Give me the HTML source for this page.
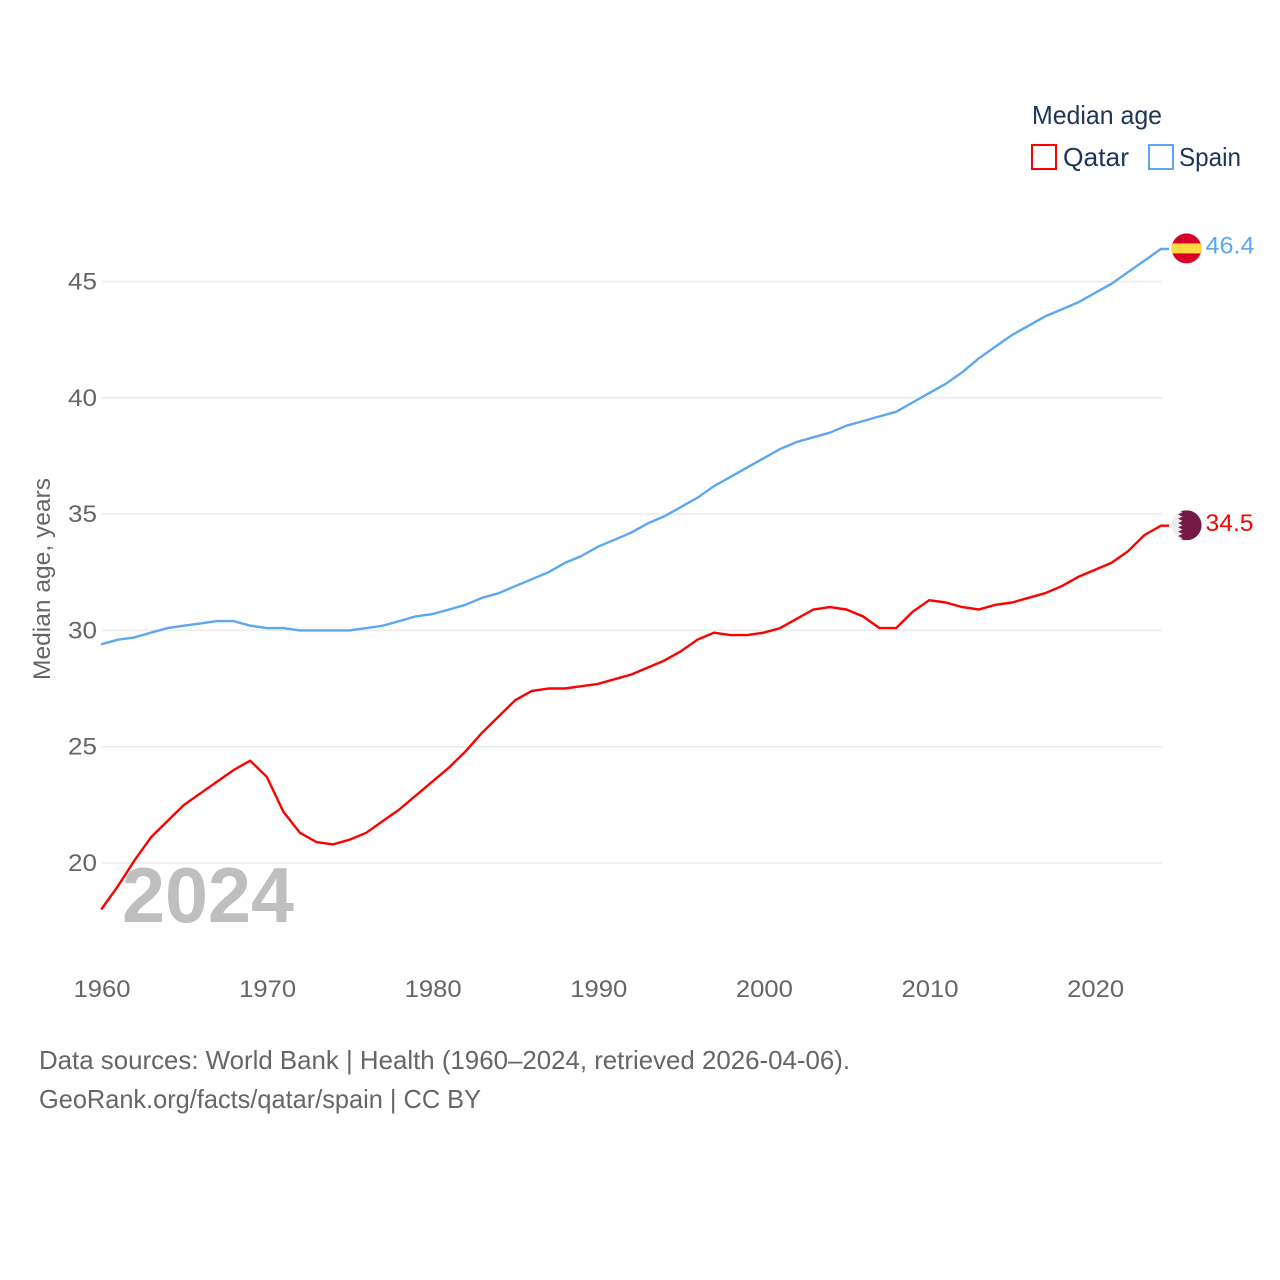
<!DOCTYPE html>
<html lang="en">
<head>
<meta charset="utf-8">
<title>Median age: Qatar and Spain</title>
<style>
html,body{margin:0;padding:0;background:#fff;width:1280px;height:1280px;overflow:hidden}
svg{display:block}
text{font-family:"Liberation Sans",sans-serif}
</style>
</head>
<body>
<svg id="chart" xmlns="http://www.w3.org/2000/svg" width="1280" height="1280" viewBox="0 0 1280 1280">
  <defs>
    <clipPath id="flag-clip-spain"><circle cx="0" cy="0" r="15"/></clipPath>
    <clipPath id="flag-clip-qatar"><circle cx="0" cy="0" r="15"/></clipPath>
  </defs>
  <g id="grid"></g>
  <g id="yticks"></g>
  <g id="xticks"></g>
  <text transform="translate(50,680) rotate(-90)" font-size="24" fill="#666" textLength="202" lengthAdjust="spacingAndGlyphs">Median age, years</text>
  <text x="122" y="922" font-size="78" font-weight="700" fill="#bfbfbf" textLength="172" lengthAdjust="spacingAndGlyphs">2024</text>
  <g id="series"></g>
  <g id="flag-spain" clip-path="url(#flag-clip-spain)">
    <rect x="-15" y="-15" width="30" height="30" fill="#d80027"/>
    <rect x="-15" y="-5" width="30" height="10" fill="#ffda44"/>
  </g>
  <g id="flag-qatar" clip-path="url(#flag-clip-qatar)">
    <rect x="-15" y="-15" width="30" height="30" fill="#eeeeee"/>
    <polygon fill="#751a46" points="-8.5,-15 15,-15 15,15 -8.5,15 -4,13 -8.5,10.8 -4,8.6 -8.5,6.5 -4,4.3 -8.5,2.1 -4,0 -8.5,-2.1 -4,-4.3 -8.5,-6.5 -4,-8.6 -8.5,-10.8 -4,-13"/>
  </g>
  <g id="end-labels"></g>
  <g>
    <text x="1032" y="124" font-size="26" fill="#1d3557" textLength="130" lengthAdjust="spacingAndGlyphs">Median age</text>
    <g>
      <rect x="1032" y="145" width="24" height="24" fill="#fff" stroke="#ff0000" stroke-width="2"/>
      <text x="1063" y="166" font-size="26" fill="#1d3557" textLength="66" lengthAdjust="spacingAndGlyphs">Qatar</text>
    </g>
    <g>
      <rect x="1149" y="145" width="24" height="24" fill="#fff" stroke="#5ca7f1" stroke-width="2"/>
      <text x="1179" y="166" font-size="26" fill="#1d3557" textLength="62" lengthAdjust="spacingAndGlyphs">Spain</text>
    </g>
  </g>
  <g>
    <text x="39" y="1069" font-size="26" fill="#666" textLength="811" lengthAdjust="spacingAndGlyphs">Data sources: World Bank | Health (1960–2024, retrieved 2026-04-06).</text>
    <text x="39" y="1108" font-size="26" fill="#666" textLength="442" lengthAdjust="spacingAndGlyphs">GeoRank.org/facts/qatar/spain | CC BY</text>
  </g>
</svg>
<script>
const years = [1960,1961,1962,1963,1964,1965,1966,1967,1968,1969,1970,1971,1972,1973,1974,1975,1976,1977,1978,1979,1980,1981,1982,1983,1984,1985,1986,1987,1988,1989,1990,1991,1992,1993,1994,1995,1996,1997,1998,1999,2000,2001,2002,2003,2004,2005,2006,2007,2008,2009,2010,2011,2012,2013,2014,2015,2016,2017,2018,2019,2020,2021,2022,2023,2024];
const qatarValues = [18.0,19.0,20.1,21.1,21.8,22.5,23.0,23.5,24.0,24.4,23.7,22.2,21.3,20.9,20.8,21.0,21.3,21.8,22.3,22.9,23.5,24.1,24.8,25.6,26.3,27.0,27.4,27.5,27.5,27.6,27.7,27.9,28.1,28.4,28.7,29.1,29.6,29.9,29.8,29.8,29.9,30.1,30.5,30.9,31.0,30.9,30.6,30.1,30.1,30.8,31.3,31.2,31.0,30.9,31.1,31.2,31.4,31.6,31.9,32.3,32.6,32.9,33.4,34.1,34.5];
const spainValues = [29.4,29.6,29.7,29.9,30.1,30.2,30.3,30.4,30.4,30.2,30.1,30.1,30.0,30.0,30.0,30.0,30.1,30.2,30.4,30.6,30.7,30.9,31.1,31.4,31.6,31.9,32.2,32.5,32.9,33.2,33.6,33.9,34.2,34.6,34.9,35.3,35.7,36.2,36.6,37.0,37.4,37.8,38.1,38.3,38.5,38.8,39.0,39.2,39.4,39.8,40.2,40.6,41.1,41.7,42.2,42.7,43.1,43.5,43.8,44.1,44.5,44.9,45.4,45.9,46.4];
const yTickValues = [20,25,30,35,40,45];
const xTickValues = [1960,1970,1980,1990,2000,2010,2020];

const NS = 'http://www.w3.org/2000/svg';
function xScale(year) { return 101.2 + (year - 1960) * 16.56; }
function yScale(value) { return 863 - (value - 20) * 23.26; }
function make(tag, parent, attrs) {
  const el = document.createElementNS(NS, tag);
  for (const k in attrs) el.setAttribute(k, attrs[k]);
  parent.appendChild(el);
  return el;
}

const grid = document.getElementById('grid');
const yticks = document.getElementById('yticks');
const xticks = document.getElementById('xticks');
const series = document.getElementById('series');
const endLabels = document.getElementById('end-labels');

yTickValues.forEach(function (v) {
  const line = make('line', grid, {x1: 102, x2: 1162, y1: yScale(v), y2: yScale(v), stroke: '#ebebeb', 'stroke-width': 1.5});
  
  
  const label = make('text', yticks, {x: 97, y: yScale(v) + 8, 'text-anchor': 'end', 'font-size': 24, fill: '#666', textLength: 29, lengthAdjust: 'spacingAndGlyphs'});
  
  
  label.textContent = v;
});

xTickValues.forEach(function (v) {
  const label = make('text', xticks, {x: xScale(v) + 0.8, y: 997, 'text-anchor': 'middle', 'font-size': 24, fill: '#666', textLength: 57, lengthAdjust: 'spacingAndGlyphs'});
  
  
  label.textContent = v;
});

function drawLine(values, color) {
  const pts = values.map(function (v, i) { return xScale(years[i]).toFixed(1) + ',' + yScale(v).toFixed(1); });
  const last = values[values.length - 1];
  pts.push((xScale(years[years.length - 1]) + 8).toFixed(1) + ',' + yScale(last).toFixed(1));
  return make('polyline', series, {points: pts.join(' '), fill: 'none', stroke: color, 'stroke-width': 2.4, 'stroke-linejoin': 'round'});
}

const spainLine = drawLine(spainValues, '#5ca7f1');


const qatarLine = drawLine(qatarValues, '#ff0000');



const spainLast = spainValues[spainValues.length - 1];
const qatarLast = qatarValues[qatarValues.length - 1];
const endX = xScale(years[years.length - 1]);
document.getElementById('flag-spain').setAttribute('transform', 'translate(' + (endX + 25.5) + ',' + (yScale(spainLast) - 0.5) + ')');
document.getElementById('flag-qatar').setAttribute('transform', 'translate(' + (endX + 25.5) + ',' + (yScale(qatarLast) - 0.5) + ')');

const spainLabel = make('text', endLabels, {x: endX + 44.5, y: yScale(spainLast) + 4.5, 'font-size': 24, fill: '#5ca7f1', textLength: 49, lengthAdjust: 'spacingAndGlyphs'});


spainLabel.textContent = spainLast.toFixed(1);
const qatarLabel = make('text', endLabels, {x: endX + 44.5, y: yScale(qatarLast) + 5.5, 'font-size': 24, fill: '#ff0000', textLength: 48, lengthAdjust: 'spacingAndGlyphs'});


qatarLabel.textContent = qatarLast.toFixed(1);
</script>
</body>
</html>
